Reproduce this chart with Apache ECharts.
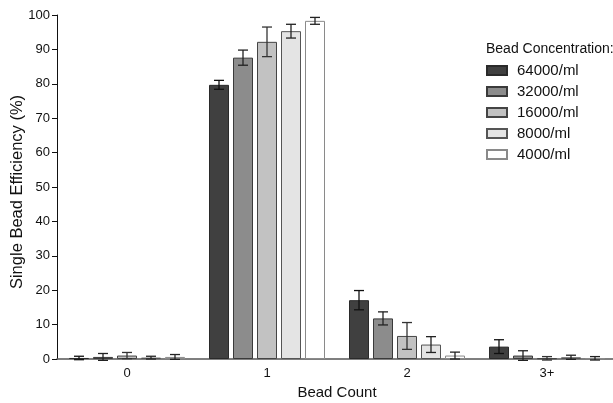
<!DOCTYPE html>
<html>
<head>
<meta charset="utf-8">
<script src="https://cdn.jsdelivr.net/npm/echarts@6/dist/echarts.min.js"></script>
<style>html,body{margin:0;padding:0;background:#fff;}#c{width:613px;height:403px;}</style>
</head>
<body>
<div id="c"></div>
<script>
const categories = ['0', '1', '2', '3+'];
const seriesNames = ['64000/ml', '32000/ml', '16000/ml', '8000/ml', '4000/ml'];
const v64000 = [0.3, 79.7, 17.1, 3.6];
const e64000 = [0.5, 1.3, 2.8, 2.0];
const v32000 = [0.6, 87.6, 11.8, 1.0];
const e32000 = [1.0, 2.2, 1.9, 1.4];
const v16000 = [1.0, 92.2, 6.7, 0.2];
const e16000 = [0.9, 4.3, 3.9, 0.5];
const v8000 = [0.4, 95.3, 4.2, 0.5];
const e8000 = [0.4, 2.0, 2.3, 0.6];
const v4000 = [0.6, 98.3, 1.0, 0.2];
const e4000 = [0.7, 1.0, 1.0, 0.5];
const yTicks = [0, 10, 20, 30, 40, 50, 60, 70, 80, 90, 100];

const values = [v64000, v32000, v16000, v8000, v4000];
const errors = [e64000, e32000, e16000, e8000, e4000];
const fills = ['#404040', '#8c8c8c', '#c2c2c2', '#e4e4e4', '#ffffff'];
const borders = ['#2a2a2a', '#3a3a3a', '#444444', '#555555', '#8a8a8a'];
const errColors = ['#111111', '#222222', '#333333', '#222222', '#222222'];
const BAR_W = 20;
const font = 'Liberation Sans, Arial, sans-serif';

const series = [];
values.forEach((vals, i) => {
  series.push({
    name: seriesNames[i],
    type: 'bar',
    data: vals,
    barWidth: BAR_W,
    barGap: '20%',
    itemStyle: { color: fills[i], borderColor: borders[i], borderWidth: 1 },
    emphasis: { disabled: true },
    z: 2
  });
});
values.forEach((vals, i) => {
  series.push({
    name: 'err' + i,
    type: 'custom',
    data: vals.map((v, k) => [k, v, errors[i][k]]),
    z: 5,
    silent: true,
    clip: false,
    renderItem: function (params, api) {
      const ci = api.value(0), val = api.value(1), err = api.value(2);
      const off = (i - 2) * BAR_W * 1.2;
      const hi = api.coord([ci, val + err]);
      const lo = api.coord([ci, val - err]);
      const x = hi[0] + off;
      const cap = 5;
      const st = { stroke: errColors[i], lineWidth: 1.3 };
      return {
        type: 'group',
        children: [
          { type: 'line', shape: { x1: x, y1: hi[1], x2: x, y2: lo[1] }, style: st },
          { type: 'line', shape: { x1: x - cap, y1: hi[1], x2: x + cap, y2: hi[1] }, style: st },
          { type: 'line', shape: { x1: x - cap, y1: lo[1], x2: x + cap, y2: lo[1] }, style: st }
        ]
      };
    }
  });
});

const chart = echarts.init(document.getElementById('c'), null, { renderer: 'canvas' });
chart.setOption({
  animation: false,
  backgroundColor: '#ffffff',
  title: {
    text: 'Bead Concentration:',
    left: 481, top: 37,
    textStyle: { fontFamily: font, fontSize: 14, fontWeight: 'normal', color: '#111' }
  },
  legend: {
    data: seriesNames,
    orient: 'vertical',
    left: 481, top: 58,
    itemWidth: 20, itemHeight: 9, itemGap: 6,
    icon: 'rect',
    textStyle: { fontFamily: font, fontSize: 15, color: '#111', padding: [0, 0, 0, 5] },
    selectedMode: false
  },
  grid: { left: 57, top: 15, bottom: 44, width: 560, containLabel: false, outerBoundsMode: 'none' },
  xAxis: {
    type: 'category',
    data: categories,
    name: 'Bead Count',
    nameLocation: 'middle',
    nameGap: 26,
    nameTextStyle: { fontFamily: font, fontSize: 15, color: '#111' },
    axisLine: { lineStyle: { color: '#555', width: 1.5 } },
    axisTick: { alignWithLabel: true, length: 5, lineStyle: { color: '#555' } },
    axisLabel: { fontFamily: font, fontSize: 13, color: '#111', margin: 8 }
  },
  yAxis: {
    type: 'value',
    min: 0, max: 100, interval: 10,
    name: 'Single Bead Efficiency (%)',
    nameLocation: 'middle',
    nameGap: 31,
    nameMoveOverlap: false,
    nameTextStyle: { fontFamily: font, fontSize: 16.5, color: '#111', padding: [0, 10, 0, 0] },
    axisLine: { show: true, lineStyle: { color: '#111', width: 1 } },
    axisTick: { show: true, length: 5, lineStyle: { color: '#111' } },
    axisLabel: { fontFamily: font, fontSize: 13, color: '#111', margin: 7,
      formatter: v => (yTicks.indexOf(v) >= 0 ? String(v) : '') },
    splitLine: { show: false }
  },
  series: series
});
</script>
</body>
</html>
